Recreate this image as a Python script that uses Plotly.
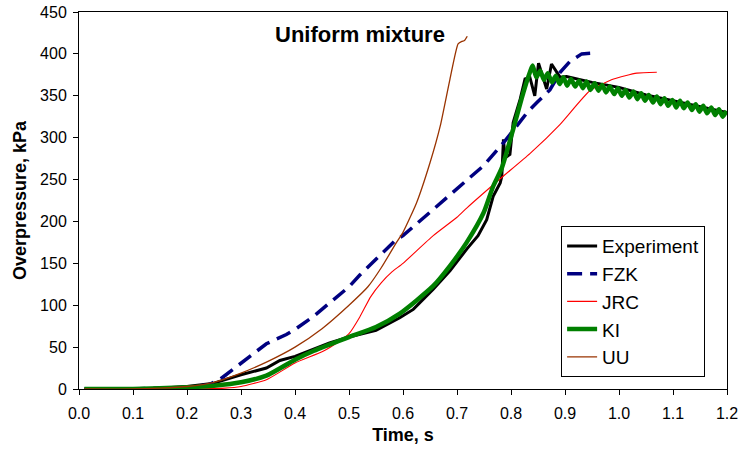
import plotly.graph_objects as go

# ---------------- data ----------------
exp_t = [0.01, 0.10, 0.15, 0.20, 0.25, 0.30, 0.347, 0.372, 0.40, 0.433, 0.464, 0.50,
         0.55, 0.594, 0.619, 0.656, 0.687, 0.718, 0.739, 0.755, 0.767, 0.780, 0.783,
         0.786, 0.789, 0.798, 0.804, 0.817, 0.826, 0.835, 0.844, 0.851, 0.866, 0.875,
         0.891, 0.903, 0.95, 1.00, 1.05, 1.10, 1.15, 1.20]
exp_p = [0, 0, 1, 3, 7, 17, 25, 34, 39, 47, 55, 62,
         70, 85, 95, 119, 141, 167, 183, 202, 230, 246, 254,
         298, 276, 280, 318, 346, 370, 372, 350, 389, 358, 388,
         372, 373, 366, 360, 351, 344, 337, 330]

fzk_t = [0.01, 0.10, 0.20, 0.24, 0.26, 0.30, 0.347, 0.384, 0.402, 0.433, 0.452, 0.50,
         0.52, 0.587, 0.60, 0.65, 0.70, 0.75, 0.79, 0.83, 0.848, 0.872, 0.891, 0.909,
         0.931, 0.955]
fzk_p = [0, 0, 2, 5, 11, 31, 54, 65, 72, 86, 96, 122,
         136, 178, 183, 211, 238, 267, 297, 330, 342, 357, 378, 391,
         400, 401]

jrc_t = [0.01, 0.10, 0.20, 0.27, 0.30, 0.347, 0.40, 0.452, 0.482, 0.50, 0.52, 0.54,
         0.56, 0.58, 0.60, 0.656, 0.70, 0.718, 0.78, 0.835, 0.891, 0.946, 0.99,
         1.033, 1.07]
jrc_p = [0, 0, 0, 1, 3, 11, 31, 45, 57, 66, 86, 110,
         127, 140, 150, 183, 205, 216, 251, 281, 316, 356, 370,
         377, 378]

ki_t = [0.01, 0.10, 0.20, 0.25, 0.30, 0.347, 0.40, 0.433, 0.48, 0.50, 0.55, 0.594,
        0.656, 0.687, 0.718, 0.749, 0.767, 0.783, 0.804, 0.823, 0.835, 0.840,
        0.847, 0.854, 0.861, 0.868, 0.876, 0.883, 0.890, 0.897, 0.904, 0.911,
        0.919, 0.926, 0.933, 0.940, 0.947, 0.955, 0.962, 0.969, 0.976, 0.983,
        0.991, 0.998, 1.005, 1.012, 1.019, 1.027, 1.034, 1.041, 1.048, 1.055,
        1.063, 1.070, 1.077, 1.084, 1.091, 1.099, 1.106, 1.113, 1.120, 1.127,
        1.135, 1.142, 1.149, 1.156, 1.163, 1.171, 1.178, 1.185, 1.192, 1.199]
ki_p = [0, 0, 2, 4, 8, 16, 35, 45, 57, 62, 74, 90,
        123, 147, 175, 210, 242, 264, 310, 354, 378, 386,
        372, 380, 369, 377, 366, 374, 364, 372, 362, 370,
        361, 368, 359, 367, 357, 365, 356, 363, 354, 361,
        352, 359, 350, 357, 348, 355, 346, 353, 344, 351,
        342, 349, 340, 347, 338, 345, 336, 344, 335, 342,
        333, 340, 331, 338, 329, 336, 327, 334, 325, 332]

uu_t = [0.01, 0.10, 0.15, 0.20, 0.25, 0.30, 0.35, 0.40, 0.45, 0.50, 0.535, 0.56,
        0.588, 0.60, 0.625, 0.65, 0.669, 0.687, 0.702, 0.709, 0.714, 0.719]
uu_p = [0, 0, 1, 3, 8, 19, 33, 50, 72, 100, 122, 145,
        175, 187, 222, 270, 314, 370, 412, 415, 416, 421]

x_ticks = [0.0, 0.1, 0.2, 0.3, 0.4, 0.5, 0.6, 0.7, 0.8, 0.9, 1.0, 1.1, 1.2]
y_ticks = [0, 50, 100, 150, 200, 250, 300, 350, 400, 450]

FONT = "Liberation Sans, Arial, sans-serif"

fig = go.Figure()
fig.add_trace(go.Scatter(x=exp_t, y=exp_p, mode="lines", name="Experiment",
                         line=dict(color="#000000", width=3)))
fig.add_trace(go.Scatter(x=fzk_t, y=fzk_p, mode="lines", name="FZK",
                         line=dict(color="#000080", width=3.5, dash="15px,8px")))
fig.add_trace(go.Scatter(x=jrc_t, y=jrc_p, mode="lines", name="JRC",
                         line=dict(color="#FF0000", width=1.1, shape="spline", smoothing=0.5)))
fig.add_trace(go.Scatter(x=ki_t, y=ki_p, mode="lines", name="KI",
                         line=dict(color="#008000", width=4.5, shape="spline", smoothing=0.6)))
fig.add_trace(go.Scatter(x=uu_t, y=uu_p, mode="lines", name="UU",
                         line=dict(color="#993300", width=1.3, shape="spline", smoothing=0.5)))

fig.update_layout(
    width=740, height=451,
    margin=dict(l=79, r=13, t=12, b=62, autoexpand=False),
    paper_bgcolor="white", plot_bgcolor="white",
    font=dict(family=FONT, color="#000000"),
    showlegend=True,
    legend=dict(x=0.744, y=0.432, xanchor="left", yanchor="top",
                bgcolor="white", bordercolor="#000000", borderwidth=1,
                font=dict(family=FONT, size=19, color="#000000"),
                tracegroupgap=0),
    annotations=[dict(text="<b>Uniform mixture</b>", xref="paper", yref="paper",
                      x=0.434, y=0.939, xanchor="center", yanchor="middle",
                      showarrow=False, font=dict(family=FONT, size=22, color="#000000"))],
)
fig.update_xaxes(range=[0, 1.2], tickvals=x_ticks, ticktext=[f"{v:.1f}" for v in x_ticks],
                 ticks="outside", ticklen=5, tickcolor="#000000", automargin=False,
                 ticklabelstandoff=5,
                 showline=True, linecolor="#000000", linewidth=1, mirror=True,
                 showgrid=False, zeroline=False,
                 tickfont=dict(family=FONT, size=16, color="#000000"),
                 title=dict(text="<b>Time, s</b>", font=dict(family=FONT, size=18, color="#000000"),
                            standoff=7))
fig.update_yaxes(range=[0, 450], tickvals=y_ticks,
                 ticks="outside", ticklen=5, tickcolor="#000000", automargin=False,
                 ticklabelstandoff=3,
                 showline=True, linecolor="#000000", linewidth=1, mirror=True,
                 showgrid=False, zeroline=False,
                 tickfont=dict(family=FONT, size=16, color="#000000"),
                 title=dict(text="<b>Overpressure, kPa</b>", font=dict(family=FONT, size=18, color="#000000"),
                            standoff=8))

fig.write_html("out.html")
